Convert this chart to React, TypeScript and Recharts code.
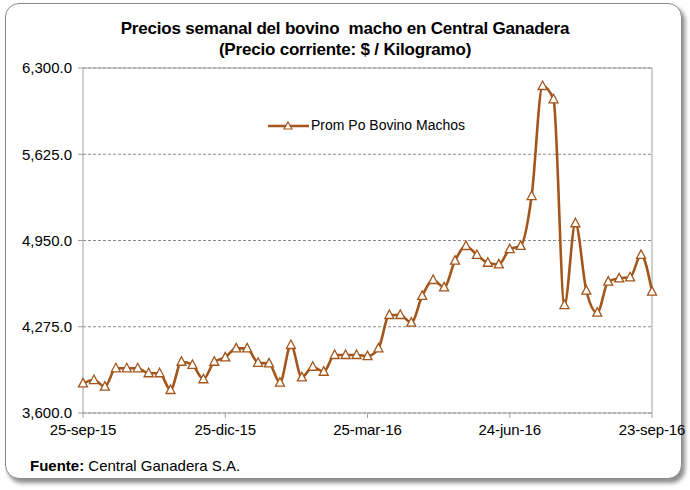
import React from 'react';
import { LineChart, Line, XAxis, YAxis, CartesianGrid, ReferenceLine } from 'recharts';

// weekly prices, 25-sep-15 .. 23-sep-16 (53 weeks)
const weeks = Array.from({ length: 53 }, (_, i) => i);
const prices = [
  3832, 3858, 3806, 3950, 3950, 3950, 3911, 3911, 3780, 4001,
  3976, 3864, 4001, 4035, 4106, 4106, 3993, 3988, 3837, 4132,
  3879, 3962, 3923, 4054, 4054, 4054, 4045, 4105, 4367, 4367,
  4307, 4516, 4641, 4583, 4792, 4907, 4837, 4776, 4763, 4882,
  4908, 5298, 6159, 6055, 4445, 5085, 4557, 4385, 4628, 4654,
  4662, 4837, 4550,
];
const xTicks = [0, 13, 26, 39, 52];
const xTickLabels = ['25-sep-15', '25-dic-15', '25-mar-16', '24-jun-16', '23-sep-16'];
const yTicks = [3600, 4275, 4950, 5625, 6300];

const data = weeks.map((w, i) => ({ week: w, price: prices[i] }));

const BROWN = '#A3561C';
const SANS = '"Liberation Sans", Arial, sans-serif';

const Triangle = (props: any) => {
  const { cx, cy, index } = props;
  if (cx == null || cy == null) return <g key={index} />;
  return (
    <path
      key={index}
      d={`M${cx},${cy - 5} L${cx + 4.5},${cy + 3.5} L${cx - 4.5},${cy + 3.5} Z`}
      fill="#fff"
      stroke={BROWN}
      strokeWidth={1.3}
    />
  );
};

const fmtY = (v: number) =>
  v.toLocaleString('en-US', { minimumFractionDigits: 1, maximumFractionDigits: 1 });

const App: React.FC = () => {
  return (
    <div style={{ position: 'absolute', left: 0, top: 0, width: 690, height: 490, background: '#fff' }}>
      <div
        style={{
          position: 'absolute', left: 5, top: 3, width: 675, height: 474,
          border: '1px solid #8a8a8a', borderRadius: 14,
          boxShadow: '3px 4px 4px rgba(0,0,0,0.45)', background: '#fff',
        }}
      />
      <div
        style={{
          position: 'absolute', left: 0, top: 18, width: 690, textAlign: 'center',
          fontFamily: SANS, fontWeight: 'bold', fontSize: 17, lineHeight: '21px',
          letterSpacing: -0.2, color: '#000',
        }}
      >
        Precios semanal del bovino &nbsp;macho en Central Ganadera
        <br />
        (Precio corriente: $ / Kilogramo)
      </div>
      <div style={{ position: 'absolute', left: 0, top: 0 }}>
        <LineChart
          width={690}
          height={490}
          data={data}
          margin={{ top: 68, right: 38, left: 8, bottom: 47 }}
        >
          <CartesianGrid vertical={false} stroke="#8c8c8c" strokeDasharray="3 2" />
          <XAxis
            dataKey="week"
            type="number"
            domain={[0, 52]}
            ticks={xTicks}
            tickFormatter={(v: number) => xTickLabels[xTicks.indexOf(v)]}
            stroke="#a0a0a0"
            tickSize={5}
            tickMargin={6}
            height={30}
            tick={{ fill: '#000', fontSize: 15, fontFamily: SANS, letterSpacing: -0.1 }}
            interval={0}
          />
          <YAxis
            type="number"
            domain={[3600, 6300]}
            ticks={yTicks}
            tickFormatter={fmtY}
            stroke="#a0a0a0"
            tickSize={5}
            tickMargin={6}
            width={75}
            tick={{ fill: '#000', fontSize: 15, fontFamily: SANS }}
            interval={0}
          />
          <ReferenceLine y={6300} stroke="#a0a0a0" />
          <ReferenceLine x={52} stroke="#a0a0a0" />
          <Line
            type="monotone"
            dataKey="price"
            stroke={BROWN}
            strokeWidth={2.6}
            dot={Triangle}
            activeDot={false}
            isAnimationActive={false}
          />
        </LineChart>
      </div>
      <div
        style={{
          position: 'absolute', left: 267, top: 117, display: 'flex', alignItems: 'center',
          fontFamily: SANS, fontSize: 14, color: '#000',
        }}
      >
        <svg width={43} height={14} style={{ marginRight: 1 }}>
          <line x1={1} y1={8} x2={42} y2={8} stroke={BROWN} strokeWidth={2.5} />
          <path d="M21,4 L25,11 L17,11 Z" fill="#fff" stroke={BROWN} strokeWidth={1.2} />
        </svg>
        Prom Po Bovino Machos
      </div>
      <div
        style={{
          position: 'absolute', left: 30, top: 457, fontFamily: SANS, fontSize: 15,
          color: '#000',
        }}
      >
        <b>Fuente:</b> Central Ganadera S.A.
      </div>
    </div>
  );
};

export default App;
